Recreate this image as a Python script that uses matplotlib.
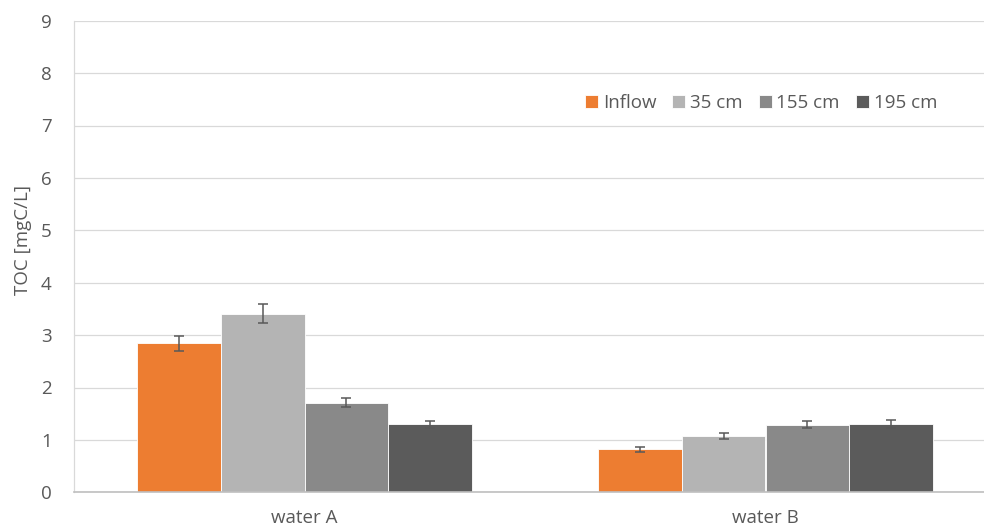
import numpy as np
import matplotlib.pyplot as plt

plt.rcParams['font.family'] = ['Open Sans', 'DejaVu Sans']

waters = ['water A', 'water B']
series = ['Inflow', '35 cm', '155 cm', '195 cm']
toc = {
    'Inflow': [2.84, 0.82],
    '35 cm': [3.41, 1.07],
    '155 cm': [1.71, 1.29],
    '195 cm': [1.30, 1.30],
}
toc_err = {
    'Inflow': [0.14, 0.045],
    '35 cm': [0.175, 0.06],
    '155 cm': [0.09, 0.07],
    '195 cm': [0.07, 0.08],
}
colors = ['#ED7D31', '#B4B4B4', '#898989', '#5B5B5B']

txt = '#595959'
fs = 13.5
fig = plt.figure(figsize=(9.84, 5.29), dpi=100)
ax = fig.add_axes([74 / 984, 1 - 492.3 / 529, 922 / 984, 471.6 / 529])

x = np.arange(len(waters))
w = 0.182
for i, (name, c) in enumerate(zip(series, colors)):
    ax.bar(x + (i - 1.5) * w, toc[name], w, color=c, edgecolor='white',
           linewidth=0.6, label=name, zorder=2)
    ax.errorbar(x + (i - 1.5) * w, toc[name], yerr=toc_err[name], fmt='none',
                ecolor='#595959', elinewidth=1.1, capsize=3.8, capthick=1.1,
                zorder=3)

ax.set_xlim(-0.5, 1.5)
ax.set_ylim(0, 9)
ax.set_yticks(range(10))
ax.set_xticks(x)
ax.set_xticklabels(waters)
ax.yaxis.grid(True, color='#D9D9D9', linewidth=0.9, zorder=0)
ax.set_axisbelow(True)

for s in ['top', 'right']:
    ax.spines[s].set_visible(False)
ax.spines['left'].set_color('#D9D9D9')
ax.spines['left'].set_linewidth(0.9)
ax.spines['bottom'].set_color('#BFBFBF')
ax.spines['bottom'].set_linewidth(1.2)
ax.tick_params(axis='both', length=0, labelsize=fs, colors=txt)
ax.tick_params(axis='y', pad=16)
ax.tick_params(axis='x', pad=12)

ax.set_ylabel('TOC [mgC/L]', fontsize=fs, color=txt)
ax.yaxis.set_label_coords(-42 / 922, 0.535)

ax.legend(loc='center', bbox_to_anchor=((761 - 74) / 922, (492.3 - 103) / 471.6),
          ncol=4, frameon=False, fontsize=fs, labelcolor=txt,
          handlelength=0.7, handleheight=0.7, handletextpad=0.25,
          columnspacing=0.85)

fig.savefig('out.png', dpi=100)
